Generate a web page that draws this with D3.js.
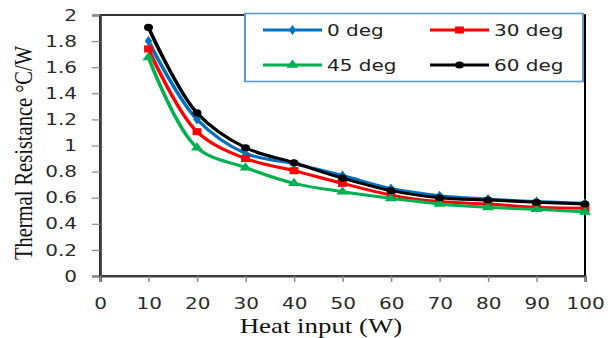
<!DOCTYPE html>
<html><head><meta charset="utf-8">
<script src="https://cdn.jsdelivr.net/npm/d3@7"></script>
<style>html,body{margin:0;padding:0;background:#fff;}svg{display:block;}</style>
</head><body>
<svg id="chart" width="616" height="338"></svg>
<script>
const heatInput = [10, 20, 30, 40, 50, 60, 70, 80, 90, 100];
const seriesNames = ["0 deg", "30 deg", "45 deg", "60 deg"];
const deg0  = [1.80, 1.20, 0.94, 0.86, 0.77, 0.67, 0.615, 0.59, 0.57, 0.557];
const deg30 = [1.74, 1.106, 0.90, 0.807, 0.71, 0.62, 0.57, 0.552, 0.526, 0.519];
const deg45 = [1.675, 0.983, 0.83, 0.71, 0.646, 0.595, 0.552, 0.526, 0.511, 0.49];
const deg60 = [1.905, 1.25, 0.983, 0.868, 0.75, 0.654, 0.60, 0.582, 0.565, 0.552];
const xTicks = [0, 10, 20, 30, 40, 50, 60, 70, 80, 90, 100];
const yTicks = [0, 0.2, 0.4, 0.6, 0.8, 1, 1.2, 1.4, 1.6, 1.8, 2];
const colors = ["#0070c0", "#ff0000", "#00b050", "#000000"];
const markers = [d3.symbolDiamond, d3.symbolSquare, d3.symbolTriangle, d3.symbolCircle];
const markerSizes = [30, 50, 40, 40];
const allSeries = [deg0, deg30, deg45, deg60];

const SX = 1.25; // horizontal stretch of the reference
const svg = d3.select("#chart");
const root = svg.append("g").attr("transform", `scale(${SX},1)`);

const L = 100 / SX, R = 585 / SX, T = 15, B = 276;
const x = d3.scaleLinear().domain([0, 100]).range([L, R]);
const y = d3.scaleLinear().domain([0, 2]).range([B, T]);

// frame
root.append("rect").attr("x", L).attr("y", T).attr("width", R - L).attr("height", B - T)
  .attr("fill", "none").attr("stroke", "#000").attr("stroke-width", 1.6);

// axes
const yAxis = d3.axisLeft(y).tickValues(yTicks).tickSize(6.4).tickPadding(12)
  .tickFormat(d => d3.format("~g")(d));
const gy = root.append("g").attr("transform", `translate(${L},0)`).call(yAxis);
const xAxis = d3.axisBottom(x).tickValues(xTicks).tickSize(6).tickPadding(16);
const gx = root.append("g").attr("transform", `translate(0,${B})`).call(xAxis);
[gx, gy].forEach(g => {
  g.select(".domain").attr("stroke", "#404040").attr("stroke-width", 2);
  g.selectAll(".tick line").attr("stroke", "#888").attr("stroke-width", 1.2);
  g.selectAll(".tick text").attr("fill", "#2a2a2a").style("font-family", "'DejaVu Sans', Verdana, sans-serif")
    .style("font-size", "16px");
});

// lines
const line = d3.line().x((d, i) => x(heatInput[i])).y(d => y(d)).curve(d3.curveCatmullRom.alpha(0.5));
allSeries.forEach((s, k) => {
  root.append("path").attr("d", line(s)).attr("fill", "none")
    .attr("stroke", colors[k]).attr("stroke-width", 3);
  root.selectAll(null).data(s).enter().append("path")
    .attr("transform", (d, i) => `translate(${x(heatInput[i])},${y(d)})`)
    .attr("d", d3.symbol().type(markers[k]).size(markerSizes[k]))
    .attr("fill", colors[k]);
});

// legend
const lg = root.append("g");
lg.append("rect").attr("x", 245 / SX).attr("y", 13.5).attr("width", (583 - 245) / SX).attr("height", 68)
  .attr("fill", "#fff").attr("stroke", "#5b9bd5").attr("stroke-width", 1.6);
const legPos = [[263, 30], [430, 30], [263, 65], [430, 65]];
seriesNames.forEach((name, k) => {
  const [lx, ly] = legPos[k];
  const x0 = lx / SX, x1 = (lx + 59) / SX;
  lg.append("line").attr("x1", x0).attr("x2", x1).attr("y1", ly).attr("y2", ly)
    .attr("stroke", colors[k]).attr("stroke-width", 3);
  lg.append("path").attr("transform", `translate(${(x0 + x1) / 2},${ly})`)
    .attr("d", d3.symbol().type(markers[k]).size(markerSizes[k])).attr("fill", colors[k]);
  lg.append("text").attr("x", (lx + 64) / SX).attr("y", ly + 6).text(name)
    .attr("fill", "#222").style("font-family", "'DejaVu Sans', Verdana, sans-serif").style("font-size", "16px");
});

// axis titles
root.append("text").attr("x", 321 / SX).attr("y", 333).attr("text-anchor", "middle")
  .text("Heat input (W)").attr("fill", "#111")
  .style("font-family", "'Liberation Serif', 'Times New Roman', serif").style("font-size", "21.5px");
root.append("text").attr("transform", `translate(${32 / SX},153) rotate(-90)`).attr("text-anchor", "middle")
  .text("Thermal Resistance °C/W").attr("fill", "#111")
  .style("font-family", "'Liberation Serif', 'Times New Roman', serif").style("font-size", "20.5px");
</script>
</body></html>
